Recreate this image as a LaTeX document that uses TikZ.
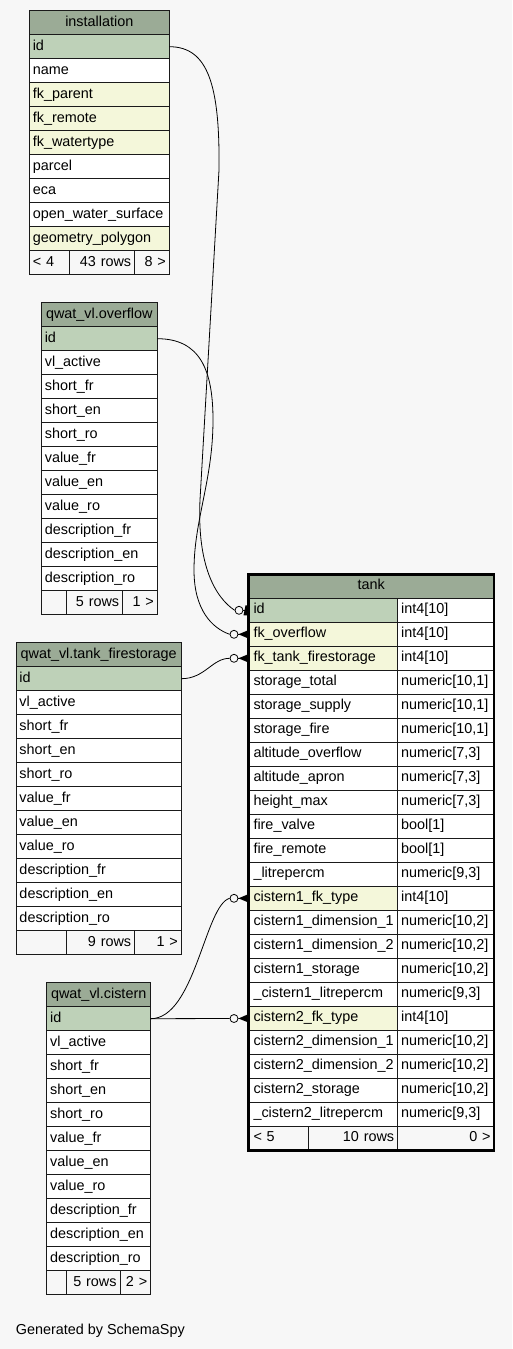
\documentclass[tikz,border=0pt]{standalone}
\usepackage{fontspec}
\setmainfont{Liberation Sans}
\usetikzlibrary{fit}
\definecolor{bgc}{HTML}{F7F7F7}
\definecolor{hdrc}{HTML}{9BAB96}
\definecolor{pkc}{HTML}{BED1B8}
\definecolor{fkc}{HTML}{F4F7DA}
\definecolor{plainc}{HTML}{FFFFFF}
\definecolor{footc}{HTML}{F7F7F7}
\definecolor{linec}{HTML}{1A1A1A}
\tikzset{
  cellbase/.style={draw=linec, line width=0.9pt, rectangle, anchor=north west, outer sep=0pt,
    inner ysep=0pt, minimum height=24pt, text height=10pt, text depth=3pt,
    font=\fontsize{14.4}{17}\selectfont},
  lcell/.style={cellbase, inner xsep=3.5pt, text width=#1-7pt, align=left},
  rcell/.style={cellbase, inner xsep=3.5pt, text width=#1-7pt, align=right},
  tcell/.style={cellbase, inner xsep=5pt, text width=#1-10pt, align=left},
  hcell/.style={cellbase, inner xsep=0pt, minimum width=#1, align=center, fill=hdrc},
  conn/.style={draw=black, line width=0.8pt},
  endc/.style={circle, draw=black, line width=0.8pt, fill=bgc, minimum size=8pt, inner sep=0pt},
  note/.style={font=\fontsize{14.4}{17}\selectfont, anchor=base west, inner sep=0pt},
}
\newcommand\vlrows{id/pkc, vl\_active/plainc, short\_fr/plainc, short\_en/plainc, short\_ro/plainc, value\_fr/plainc, value\_en/plainc, value\_ro/plainc, description\_fr/plainc, description\_en/plainc, description\_ro/plainc}
\newcommand\crowmark[2]{\fill (#1.east) -- ([yshift=4.2pt]#2.west) -- ([yshift=-4.2pt]#2.west) -- cycle; \draw[conn] (#1.east) -- (#2.west);}
\begin{document}
\begin{tikzpicture}[x=1pt,y=-1pt]
\fill[bgc] (0,0) rectangle (512,1349);
\useasboundingbox (0,0) rectangle (512,1349);

% installation
\node[hcell=140pt] (inst-h) at (29.3,10.7) {installation};
\foreach \nm/\cl [count=\i] in {id/pkc, name/plainc, fk\_parent/fkc, fk\_remote/fkc, fk\_watertype/fkc, parcel/plainc, eca/plainc, open\_water\_surface/plainc, geometry\_polygon/fkc}
  \node[lcell=140pt, fill=\cl] (inst-\i) at (29.3,{10.7+24*\i}) {\nm};
\node[lcell=39.7pt, fill=footc] (inst-f1) at (29.3,250.7) {< 4};
\node[rcell=65.7pt, fill=footc] (inst-f2) at (69,250.7) {43 rows};
\node[rcell=34.6pt, fill=footc] (inst-f3) at (134.7,250.7) {8 >};

% overflow
\node[hcell=116pt] (ovf-h) at (41.3,302.7) {qwat\_vl.overflow};
\foreach \nm/\cl [count=\i] in \vlrows
  \node[lcell=116pt, fill=\cl] (ovf-\i) at (41.3,{302.7+24*\i}) {\nm};
\node[lcell=25.4pt, fill=footc] (ovf-f1) at (41.3,590.7) {};
\node[rcell=56pt, fill=footc] (ovf-f2) at (66.7,590.7) {5 rows};
\node[rcell=34.6pt, fill=footc] (ovf-f3) at (122.7,590.7) {1 >};

% tank_firestorage
\node[hcell=165.3pt] (fs-h) at (16,642.7) {qwat\_vl.tank\_firestorage};
\foreach \nm/\cl [count=\i] in \vlrows
  \node[lcell=165.3pt, fill=\cl] (fs-\i) at (16,{642.7+24*\i}) {\nm};
\node[lcell=50.7pt, fill=footc] (fs-f1) at (16,930.7) {};
\node[rcell=68pt, fill=footc] (fs-f2) at (66.7,930.7) {9 rows};
\node[rcell=46.6pt, fill=footc] (fs-f3) at (134.7,930.7) {1 >};

% cistern
\node[hcell=104pt] (cis-h) at (46.7,982.7) {qwat\_vl.cistern};
\foreach \nm/\cl [count=\i] in \vlrows
  \node[lcell=104pt, fill=\cl] (cis-\i) at (46.7,{982.7+24*\i}) {\nm};
\node[lcell=20pt, fill=footc] (cis-f1) at (46.7,1270.7) {};
\node[rcell=53.3pt, fill=footc] (cis-f2) at (66.7,1270.7) {5 rows};
\node[rcell=30.7pt, fill=footc] (cis-f3) at (120,1270.7) {2 >};

% tank
\node[hcell=245.5pt] (tank-h) at (248.5,574.3) {tank};
\foreach \nm/\cl/\ty [count=\i] in {id/pkc/int4[10], fk\_overflow/fkc/int4[10], fk\_tank\_firestorage/fkc/int4[10],
   storage\_total/plainc/{numeric[10,1]}, storage\_supply/plainc/{numeric[10,1]}, storage\_fire/plainc/{numeric[10,1]},
   altitude\_overflow/plainc/{numeric[7,3]}, altitude\_apron/plainc/{numeric[7,3]}, height\_max/plainc/{numeric[7,3]},
   fire\_valve/plainc/bool[1], fire\_remote/plainc/bool[1], \_litrepercm/plainc/{numeric[9,3]},
   cistern1\_fk\_type/fkc/int4[10], cistern1\_dimension\_1/plainc/{numeric[10,2]}, cistern1\_dimension\_2/plainc/{numeric[10,2]},
   cistern1\_storage/plainc/{numeric[10,2]}, \_cistern1\_litrepercm/plainc/{numeric[9,3]},
   cistern2\_fk\_type/fkc/int4[10], cistern2\_dimension\_1/plainc/{numeric[10,2]}, cistern2\_dimension\_2/plainc/{numeric[10,2]},
   cistern2\_storage/plainc/{numeric[10,2]}, \_cistern2\_litrepercm/plainc/{numeric[9,3]}}
{
  \node[tcell=149.2pt, fill=\cl] (tank-\i) at (248.5,{574.3+24*\i}) {\nm};
  \node[lcell=96.3pt, fill=plainc] (tankt-\i) at (397.7,{574.3+24*\i}) {\ty};
}
\node[tcell=60.2pt, fill=footc] (tank-f1) at (248.5,1126.3) {< 5};
\node[rcell=89pt, fill=footc] (tank-f2) at (308.7,1126.3) {10 rows};
\node[rcell=96.3pt, fill=footc] (tank-f3) at (397.7,1126.3) {0 >};
\node[fit=(tank-h)(tank-f3), inner sep=0pt, draw=black, line width=2.6pt] (tank-frame) {};

% connector ends
\node[endc] (e-id) at (239,610.3) {};
\node[endc] (e-ovf) at (234,634.3) {};
\node[endc] (e-fs) at (234,658.3) {};
\node[endc] (e-c1) at (234,898.3) {};
\node[endc] (e-c2) at (234,1018.5) {};

% connectors
\draw[conn] (inst-1.east) .. controls (208,46.7) and (220,85) .. (219,170) -- (200,500)
  .. controls (197,565) and (215,597) .. (e-id.west);
\draw[conn] (ovf-1.east) .. controls (200,338.7) and (213,370) .. (213,420)
  .. controls (213,480) and (194,520) .. (194,570)
  .. controls (194,610) and (212,628) .. (e-ovf.west);
\draw[conn] (fs-1.east) .. controls (205,678.7) and (212,658.3) .. (e-fs.west);
\draw[conn] (cis-1.east) .. controls (195,1018.7) and (205,905) .. (e-c1.west);
\draw[conn] (cis-1.east) -- (e-c2.west);

% end markers
\draw[conn] (e-id.east) -- (tank-1.west);
\fill (243.5,615.3) -- (245.5,605.3) -- (248.5,605.3) -- (248.5,615.3) -- cycle;
\crowmark{e-ovf}{tank-2}
\crowmark{e-fs}{tank-3}
\crowmark{e-c1}{tank-13}
\crowmark{e-c2}{tank-18}

\node[note] (gen) at (15.7,1334) {Generated by SchemaSpy};
\end{tikzpicture}
\end{document}
